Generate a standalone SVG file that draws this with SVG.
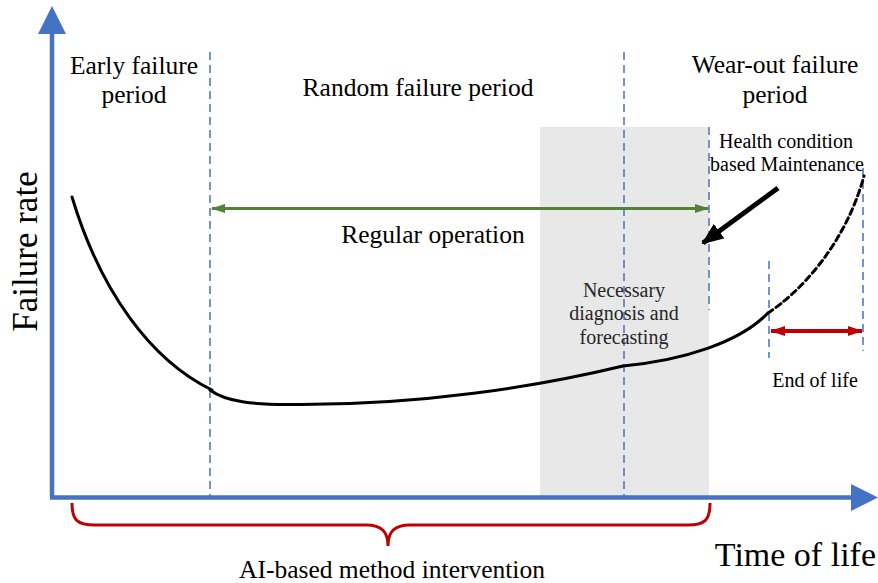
<svg xmlns="http://www.w3.org/2000/svg" width="878" height="583" viewBox="0 0 878 583">
  <style>
    text { font-family: "Liberation Serif", "Times New Roman", serif; fill: #000; }
    .lbl { font-size: 25.5px; }
    .sm { font-size: 20px; }
    .axis { stroke: #4472C4; stroke-width: 4.5; fill: none; }
    .guide { stroke: #4472C4; stroke-width: 1.5; stroke-dasharray: 8 5; fill: none; }
    .curve { stroke: #000; stroke-width: 3; fill: none; stroke-linecap: round; }
  </style>
  <defs>
    <marker id="greenHead" viewBox="0 0 14 9" refX="13" refY="4.5" markerWidth="14" markerHeight="9" markerUnits="userSpaceOnUse" orient="auto-start-reverse">
      <path d="M0,0 L14,4.5 L0,9 Z" fill="#538135"/>
    </marker>
    <marker id="redHead" viewBox="0 0 15 10" refX="14" refY="5" markerWidth="15" markerHeight="10" markerUnits="userSpaceOnUse" orient="auto-start-reverse">
      <path d="M0,0 L15,5 L0,10 Z" fill="#C00000"/>
    </marker>
    <marker id="blackHead" viewBox="0 0 22 18" refX="20" refY="9" markerWidth="22" markerHeight="18" markerUnits="userSpaceOnUse" orient="auto">
      <path d="M0,0 L22,9 L0,18 Z" fill="#000"/>
    </marker>
  </defs>

  <!-- shaded diagnosis window -->
  <rect id="diagnosis-window" x="540" y="127" width="169" height="370" fill="#E8E8E8"/>

  <!-- axes -->
  <g id="axes">
    <line class="axis" x1="52" y1="497.5" x2="52" y2="30"/>
    <path d="M38,34 L52,6 L66,34 Z" fill="#4472C4"/>
    <line class="axis" x1="50" y1="497.5" x2="854" y2="497.5"/>
    <path d="M851,484 L878,497.5 L851,511 Z" fill="#4472C4"/>
  </g>

  <!-- period boundaries -->
  <g id="guides">
    <line class="guide" x1="210" y1="52" x2="210" y2="497"/>
    <line class="guide" x1="624" y1="52" x2="624" y2="497"/>
    <line class="guide" x1="709" y1="127" x2="709" y2="310"/>
    <line class="guide" x1="769" y1="261" x2="769" y2="358"/>
    <line class="guide" x1="863" y1="168" x2="863" y2="351"/>
  </g>

  <!-- bathtub failure-rate curve -->
  <g id="failure-curve">
    <path class="curve" d="M72,197 C100,290 150,360 212,390"/>
    <path class="curve" d="M210,390 C226,402 255,404.5 287,404.5 C420,406 540,386 623,366 C685,360 740,342 768,313"/>
    <path class="curve" d="M768,313 C800,292 845,245 864,176" stroke-dasharray="6 4" stroke-linecap="butt"/>
  </g>

  <g id="connectors">
    <line x1="212" y1="208.5" x2="708" y2="208.5" stroke="#538135" stroke-width="3" marker-start="url(#greenHead)" marker-end="url(#greenHead)"/>
    <line x1="771" y1="331" x2="862" y2="331" stroke="#C00000" stroke-width="4" marker-start="url(#redHead)" marker-end="url(#redHead)"/>
    <line x1="778" y1="188" x2="703" y2="243" stroke="#000" stroke-width="5" marker-end="url(#blackHead)"/>
    <path d="M72,503 C72,520 77,525 95,525 L366,525 C382,525 388,532 388,546 C388,532 394,525 410,525 L688,525 C705,525 710,520 710,503" fill="none" stroke="#C00000" stroke-width="3"/>
  </g>

  <g id="labels">
    <text class="lbl" x="134" y="74" text-anchor="middle">Early failure</text>
    <text class="lbl" x="134" y="103" text-anchor="middle">period</text>
    <text class="lbl" x="418" y="96" text-anchor="middle">Random failure period</text>
    <text class="lbl" x="775" y="73" text-anchor="middle">Wear-out failure</text>
    <text class="lbl" x="775" y="103" text-anchor="middle">period</text>
    <text class="sm" x="786" y="148" text-anchor="middle">Health condition</text>
    <text class="sm" x="787" y="171" text-anchor="middle">based Maintenance</text>
    <text class="lbl" x="433" y="243" text-anchor="middle">Regular operation</text>
    <text class="sm" x="624" y="297" text-anchor="middle" style="fill:#262626">Necessary</text>
    <text class="sm" x="624" y="320" text-anchor="middle" style="fill:#262626">diagnosis and</text>
    <text class="sm" x="624" y="344" text-anchor="middle" style="fill:#262626">forecasting</text>
    <text class="sm" x="815" y="387" text-anchor="middle">End of life</text>
    <text class="lbl" x="392" y="578" text-anchor="middle">AI-based method intervention</text>
    <text x="876" y="566" text-anchor="end" style="font-size:34px">Time of life</text>
    <text x="37" y="251.5" text-anchor="middle" transform="rotate(-90 37 251.5)" style="font-size:35px">Failure rate</text>
  </g>
</svg>
